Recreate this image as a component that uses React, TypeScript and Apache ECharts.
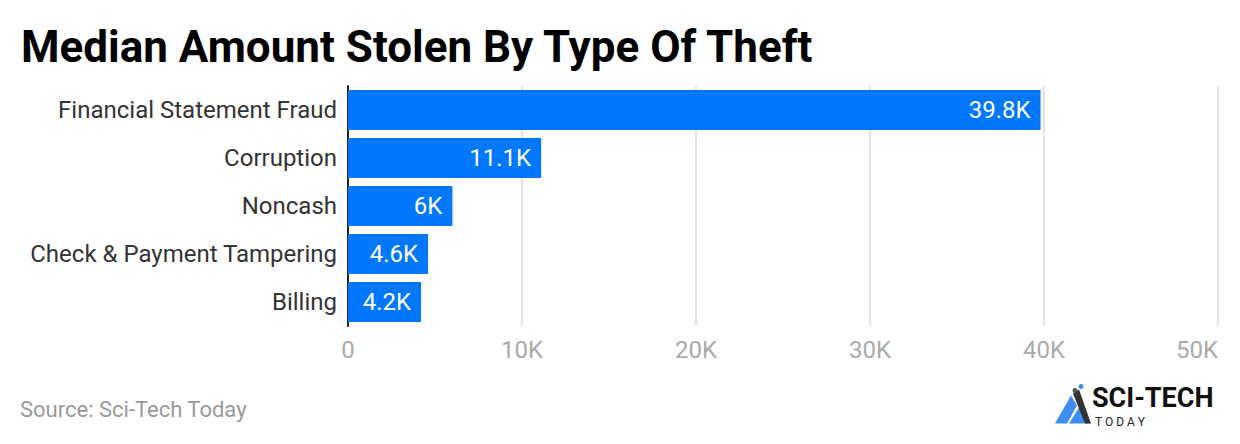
import { useEffect, useRef } from 'react';
import * as echarts from 'echarts';

const categories = [
  'Financial Statement Fraud',
  'Corruption',
  'Noncash',
  'Check & Payment Tampering',
  'Billing',
];
const values = [39800, 11100, 6000, 4600, 4200];
const tickValues = [0, 10000, 20000, 30000, 40000, 50000];

const fmtK = (v: number) => (v === 0 ? '0' : `${Math.round(v / 100) / 10}K`);

export default function App() {
  const chartRef = useRef<HTMLDivElement>(null);

  useEffect(() => {
    document.body.style.margin = '0';
    if (!chartRef.current) return;
    const chart = echarts.init(chartRef.current, null, { renderer: 'svg' });

    const option: echarts.EChartsOption = {
      animation: false,
      backgroundColor: '#ffffff',
      textStyle: { fontFamily: 'Roboto' },
      title: {
        text: 'Median Amount Stolen By Type Of Theft',
        left: 16,
        top: 20,
        textStyle: {
          fontFamily: 'Roboto',
          fontSize: 44,
          fontWeight: 'bold',
          color: '#000000',
        },
      },
      grid: { left: 348, right: 22, top: 86, bottom: 118 },
      xAxis: {
        type: 'value',
        min: tickValues[0],
        max: tickValues[tickValues.length - 1],
        interval: 10000,
        axisLine: { show: false },
        axisTick: { show: false },
        axisLabel: {
          color: '#aaaaaa',
          fontSize: 24,
          margin: 12,
          alignMaxLabel: 'right',
          formatter: (v: number) => fmtK(v),
        },
        splitLine: { lineStyle: { color: '#e4e4e4', width: 2 } },
      },
      yAxis: {
        type: 'category',
        data: categories,
        inverse: true,
        axisLine: { lineStyle: { color: '#222222', width: 2 } },
        axisTick: { show: false },
        axisLabel: { color: '#333333', fontSize: 24, margin: 11 },
      },
      series: [
        {
          type: 'bar',
          data: values,
          barCategoryGap: '17%',
          itemStyle: { color: '#0077ff' },
          label: {
            show: true,
            position: 'insideRight',
            color: '#ffffff',
            fontSize: 24,
            distance: 10,
            formatter: (p: any) => fmtK(p.value),
          },
        },
      ],
      graphic: [
        {
          type: 'text',
          left: 20,
          top: 398,
          style: {
            text: 'Source: Sci-Tech Today',
            fill: '#999999',
            fontSize: 22,
            fontFamily: 'Roboto',
          },
        },
        {
          type: 'group',
          left: 1055,
          top: 384,
          children: [
            {
              type: 'polygon',
              shape: { points: [[0, 41], [16, 13], [22, 23], [12, 41]] },
              style: { fill: '#3d8ef0' },
            },
            {
              type: 'polygon',
              shape: { points: [[14, 41], [24, 25], [34, 41]] },
              style: { fill: '#3d8ef0' },
            },
            {
              type: 'polygon',
              shape: { points: [[18, 11], [24, 7], [36, 41], [30, 41]] },
              style: { fill: '#333333' },
            },
            { type: 'circle', shape: { cx: 26, cy: 4, r: 2.5 }, style: { fill: '#3d8ef0' } },
            { type: 'circle', shape: { cx: 20, cy: 8, r: 2.5 }, style: { fill: '#555555' } },
            {
              type: 'text',
              x: 37,
              y: 2,
              style: {
                text: 'SCI-TECH',
                fill: '#111111',
                fontSize: 27,
                lineHeight: 27,
                fontWeight: 'bold',
                fontFamily: 'Roboto',
              },
            },
            {
              type: 'text',
              x: 40,
              y: 33,
              style: {
                text: 'T O D A Y',
                fill: '#222222',
                fontSize: 12,
                lineHeight: 12,
                fontFamily: 'Roboto',
              },
            },
          ],
        },
      ],
    };

    chart.setOption(option);
    return () => chart.dispose();
  }, []);

  return <div ref={chartRef} style={{ width: 1240, height: 444 }} />;
}
